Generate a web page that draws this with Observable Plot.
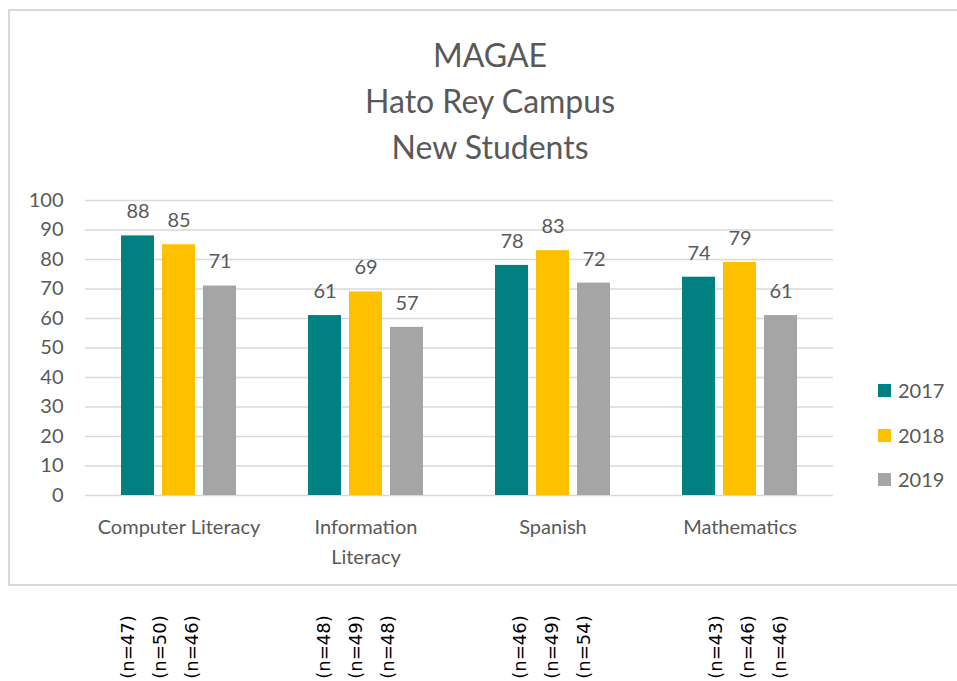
<!DOCTYPE html>
<html>
<head>
<meta charset="utf-8">
<script src="https://cdn.jsdelivr.net/npm/d3@7"></script>
<script src="https://cdn.jsdelivr.net/npm/@observablehq/plot@0.6"></script>
<style>
  html, body { margin: 0; padding: 0; background: #fff; }
  #page { position: relative; width: 957px; height: 681px; overflow: hidden; font-family: Lato, "Open Sans", sans-serif; }
  #frame { position: absolute; left: 8px; top: 9px; width: 1000px; height: 577px; border: 2.5px solid #d9d9d9; border-right: none; box-sizing: border-box; }
  #title { position: absolute; left: 490px; top: 32px; transform: translateX(-50%); text-align: center; color: #595959; font-size: 32px; line-height: 46px; white-space: nowrap; }
  #main { position: absolute; left: 0; top: 0; }
  #nlabels { position: absolute; left: 0; top: 588px; }
  .leg { position: absolute; left: 878px; height: 20px; display: flex; align-items: center; color: #595959; font-size: 20px; }
  .leg span.sw { display: inline-block; width: 13px; height: 13px; margin-right: 7px; }
</style>
</head>
<body>
<div id="page">
  <div id="frame"></div>
  <div id="main"></div>
  <div id="title">MAGAE<br>Hato Rey Campus<br>New Students</div>
  <div id="legend"></div>
  <div id="nlabels"></div>
</div>
<script>
const categories = ["Computer Literacy", "Information Literacy", "Spanish", "Mathematics"];
const tickLabels = ["Computer Literacy", "Information\nLiteracy", "Spanish", "Mathematics"];
const years = ["2017", "2018", "2019"];
const colors = ["#008080", "#FFC000", "#A5A5A5"];
const v2017 = [88, 61, 78, 74];
const v2018 = [85, 69, 83, 79];
const v2019 = [71, 57, 72, 61];
const n2017 = [47, 48, 46, 43];
const n2018 = [50, 49, 49, 46];
const n2019 = [46, 48, 54, 46];
const yTicks = [0, 10, 20, 30, 40, 50, 60, 70, 80, 90, 100];

const series = [v2017, v2018, v2019];
const nSeries = [n2017, n2018, n2019];
const data = [];
const ndata = [];
categories.forEach((c, i) => {
  years.forEach((yr, j) => {
    data.push({cat: c, year: yr, value: series[j][i]});
    ndata.push({cat: c, year: yr, n: nSeries[j][i]});
  });
});

const gray = "#595959";

const main = Plot.plot({
  width: 957,
  height: 580,
  marginLeft: 85,
  marginRight: 124,
  marginTop: 200,
  marginBottom: 85,
  style: {fontFamily: "Lato, 'Open Sans', sans-serif", fontSize: "20px", color: gray, background: "transparent", overflow: "visible"},
  fx: {domain: categories, padding: 0, axis: null},
  x: {type: "band", domain: years, paddingInner: 0.2, paddingOuter: 0.853, axis: null},
  y: {domain: [0, 100], axis: null},
  color: {domain: years, range: colors},
  marks: [
    Plot.gridY(yTicks, {stroke: "#d9d9d9", strokeOpacity: 1, strokeWidth: 1.5}),
    Plot.axisY(yTicks, {anchor: "left", tickSize: 0, tickPadding: 22, fontSize: 20, fill: gray, label: null}),
    Plot.axisFx({anchor: "bottom", tickSize: 0, tickPadding: 17, fontSize: 20, fill: gray, lineHeight: 1.5, label: null,
      tickFormat: d => tickLabels[categories.indexOf(d)]}),
    Plot.barY(data, {fx: "cat", x: "year", y: "value", fill: "year"}),
    Plot.text(data, {fx: "cat", x: "year", y: "value", text: d => String(d.value), dy: -24, fill: gray, fontSize: 20})
  ]
});
document.getElementById("main").appendChild(main);

const nplot = Plot.plot({
  width: 957,
  height: 93,
  marginLeft: 61,
  marginRight: 111,
  marginTop: 24,
  marginBottom: 0,
  style: {fontFamily: "'DejaVu Sans', sans-serif", fontSize: "18px", color: "#000", background: "transparent", overflow: "visible"},
  fx: {domain: categories, padding: 0, axis: null},
  x: {type: "band", domain: years, paddingInner: 0, paddingOuter: 1.52, axis: null},
  marks: [
    Plot.text(ndata, {fx: "cat", x: "year", text: d => "(n=" + d.n + ")", rotate: -90, frameAnchor: "middle", fill: "#000", fontSize: 18})
  ]
});
document.getElementById("nlabels").appendChild(nplot);

const legend = document.getElementById("legend");
const legY = [390, 435, 479];
years.forEach((yr, i) => {
  const row = document.createElement("div");
  row.className = "leg";
  row.style.top = (legY[i] - 10) + "px";
  row.innerHTML = '<span class="sw" style="background:' + colors[i] + '"></span><span>' + yr + '</span>';
  legend.appendChild(row);
});
</script>
</body>
</html>
